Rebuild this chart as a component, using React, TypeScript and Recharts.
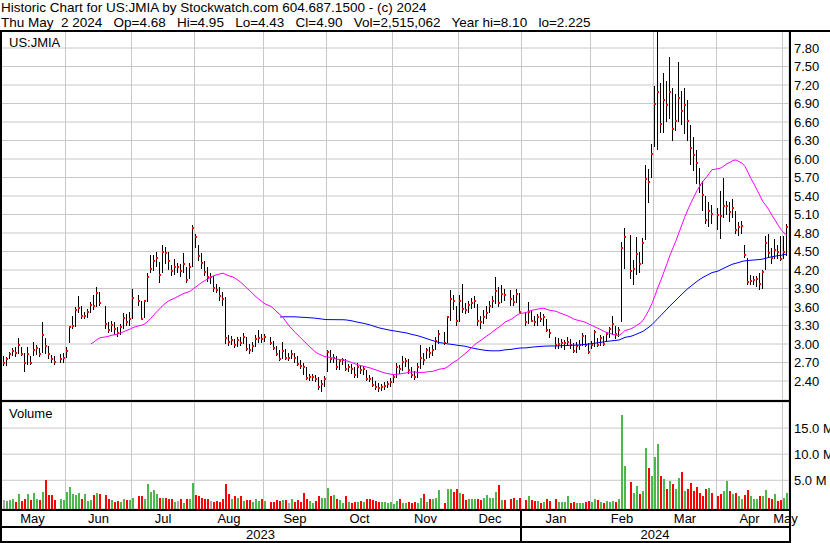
import React from "react";
import { ComposedChart, Bar, Line, XAxis, YAxis, CartesianGrid } from "recharts";

// trading calendar shown on the chart
const FIRST_DAY = "2023-05-02";
const LAST_DAY = "2024-05-02";
const HOLIDAYS = [
  "2023-05-29", "2023-06-19", "2023-07-04", "2023-09-04", "2023-11-23",
  "2023-12-25", "2024-01-01", "2024-01-15", "2024-02-19", "2024-03-29",
];
const MONTH_NAMES = ["Jan", "Feb", "Mar", "Apr", "May", "Jun", "Jul", "Aug", "Sep", "Oct", "Nov", "Dec"];

// daily closes, one row per month (May 2023 .. May 2024)
const CLOSES = [
  2.70, 2.70, 2.76, 2.84, 2.89, 2.86, 2.99, 2.84, 2.70, 2.84, 2.70, 2.90, 2.93, 2.83, 3.15, 2.96, 2.84, 2.75, 2.71, 2.75, 2.78,
  2.89, 3.27, 3.30, 3.55, 3.58, 3.45, 3.46, 3.52, 3.64, 3.62, 3.82, 3.66, 3.32, 3.23, 3.31, 3.24, 3.18, 3.27, 3.42, 3.36, 3.41,
  3.75, 3.70, 3.40, 3.69, 4.09, 4.22, 4.35, 4.40, 4.12, 4.50, 4.47, 4.34, 4.18, 4.25, 4.25, 4.18, 4.30, 4.03, 4.25, 4.88,
  4.74, 4.42, 4.32, 4.16, 4.08, 4.08, 3.91, 3.88, 3.78, 3.73, 3.09, 3.03, 3.06, 2.99, 3.07, 3.02, 3.11, 2.92, 2.90, 2.96, 3.08, 3.09, 3.08,
  3.11, 3.01, 2.94, 2.84, 2.76, 2.89, 2.78, 2.78, 2.83, 2.78, 2.68, 2.65, 2.63, 2.45, 2.46, 2.47, 2.44, 2.31, 2.35, 2.43,
  2.87, 2.75, 2.77, 2.62, 2.72, 2.74, 2.60, 2.63, 2.59, 2.49, 2.63, 2.58, 2.60, 2.44, 2.43, 2.34, 2.31, 2.29, 2.30, 2.32, 2.35, 2.38,
  2.47, 2.62, 2.59, 2.71, 2.72, 2.58, 2.50, 2.47, 2.62, 2.78, 2.74, 2.90, 2.85, 2.90, 3.05, 3.17, 3.02, 3.43, 3.73, 3.69, 3.38,
  3.70, 3.57, 3.55, 3.64, 3.67, 3.70, 3.38, 3.36, 3.44, 3.51, 3.62, 3.70, 3.86, 3.66, 3.81, 3.79, 3.73, 3.68, 3.81, 3.52,
  3.35, 3.52, 3.38, 3.35, 3.44, 3.40, 3.43, 3.23, 3.18, 2.98, 3.00, 3.01, 3.02, 3.04, 2.98, 2.89, 2.96, 2.98, 3.13, 2.99, 2.87,
  2.98, 3.19, 2.99, 3.09, 3.00, 3.17, 3.25, 3.32, 3.16, 3.22, 4.55, 4.74, 4.18, 4.22, 4.46, 4.29, 4.64, 5.68, 5.62, 6.08,
  6.90, 7.09, 6.56, 6.95, 6.88, 7.08, 6.49, 6.62, 6.99, 6.78, 6.88, 6.62, 6.18, 6.07, 5.94, 5.58, 5.41, 5.01, 5.16, 5.11,
  5.09, 5.08, 5.23, 5.24, 5.14, 5.20, 4.85, 4.90, 4.92, 4.44, 4.00, 4.02, 4.03, 4.05, 3.98, 4.16, 4.63, 4.48, 4.39, 4.52, 4.50, 4.38,
  4.50, 4.90,
];

const HIGHS = [
  2.80, 2.80, 2.79, 2.87, 2.94, 2.95, 3.09, 2.95, 2.85, 2.95, 2.80, 3.03, 2.99, 2.93, 3.36, 3.10, 2.97, 2.82, 2.80, 2.84, 2.86,
  2.95, 3.30, 3.45, 3.60, 3.78, 3.62, 3.52, 3.56, 3.68, 3.80, 3.92, 3.85, 3.62, 3.35, 3.38, 3.35, 3.28, 3.32, 3.50, 3.48, 3.52,
  3.89, 3.80, 3.69, 3.72, 4.15, 4.45, 4.45, 4.50, 4.33, 4.61, 4.57, 4.50, 4.28, 4.38, 4.32, 4.30, 4.47, 4.25, 4.31, 4.93,
  4.78, 4.60, 4.48, 4.35, 4.25, 4.15, 4.10, 3.98, 3.92, 3.84, 3.77, 3.15, 3.13, 3.08, 3.12, 3.12, 3.18, 3.12, 3.00, 3.03, 3.14, 3.22, 3.16,
  3.17, 3.12, 3.05, 2.96, 2.90, 3.04, 2.92, 2.85, 2.90, 2.86, 2.80, 2.74, 2.69, 2.62, 2.52, 2.52, 2.50, 2.46, 2.42, 2.48,
  2.91, 2.90, 2.84, 2.80, 2.76, 2.78, 2.76, 2.68, 2.67, 2.62, 2.69, 2.66, 2.64, 2.58, 2.50, 2.47, 2.40, 2.36, 2.35, 2.38, 2.40, 2.45,
  2.52, 2.69, 2.66, 2.80, 2.78, 2.76, 2.62, 2.56, 2.70, 2.98, 2.85, 2.94, 2.95, 2.98, 3.12, 3.22, 3.20, 3.45, 3.88, 3.80, 3.62,
  3.80, 3.97, 3.66, 3.70, 3.75, 3.78, 3.65, 3.45, 3.55, 3.62, 3.70, 3.78, 4.08, 3.92, 3.95, 3.90, 3.87, 3.80, 3.90, 3.82,
  3.52, 3.68, 3.55, 3.45, 3.48, 3.52, 3.48, 3.40, 3.25, 3.12, 3.10, 3.08, 3.06, 3.12, 3.08, 3.02, 3.04, 3.06, 3.18, 3.14, 3.02,
  3.05, 3.22, 3.10, 3.15, 3.13, 3.20, 3.28, 3.45, 3.30, 3.28, 4.65, 4.88, 4.77, 4.36, 4.74, 4.50, 4.72, 5.90, 5.83, 6.24,
  7.18, 8.10, 7.24, 7.39, 7.26, 7.66, 7.15, 7.05, 7.57, 7.10, 7.15, 6.95, 6.55, 6.35, 6.15, 5.85, 5.65, 5.40, 5.30, 5.25,
  5.20, 5.48, 5.69, 5.32, 5.30, 5.35, 5.15, 4.98, 5.00, 4.60, 4.40, 4.12, 4.10, 4.10, 4.15, 4.20, 4.75, 4.78, 4.55, 4.70, 4.60, 4.75,
  4.75, 4.95,
];

const LOWS = [
  2.62, 2.65, 2.64, 2.75, 2.80, 2.79, 2.83, 2.80, 2.55, 2.66, 2.66, 2.80, 2.82, 2.79, 2.85, 2.84, 2.76, 2.70, 2.66, 2.70, 2.70,
  2.78, 3.02, 3.25, 3.28, 3.50, 3.40, 3.40, 3.42, 3.50, 3.55, 3.60, 3.62, 3.25, 3.18, 3.20, 3.15, 3.12, 3.15, 3.25, 3.30, 3.30,
  3.40, 3.62, 3.40, 3.42, 3.68, 4.15, 4.19, 4.25, 3.99, 4.15, 4.30, 4.20, 4.10, 4.12, 4.15, 4.08, 4.15, 3.99, 4.05, 4.25,
  4.55, 4.35, 4.22, 4.10, 4.00, 3.98, 3.85, 3.82, 3.70, 3.62, 3.00, 2.97, 2.98, 2.93, 2.95, 2.96, 3.00, 2.88, 2.83, 2.87, 2.95, 3.02, 3.02,
  3.04, 2.98, 2.90, 2.80, 2.72, 2.75, 2.74, 2.72, 2.76, 2.70, 2.64, 2.60, 2.50, 2.42, 2.40, 2.40, 2.38, 2.25, 2.22, 2.30,
  2.55, 2.70, 2.70, 2.58, 2.58, 2.66, 2.56, 2.55, 2.52, 2.45, 2.45, 2.52, 2.50, 2.40, 2.38, 2.30, 2.25, 2.22, 2.24, 2.25, 2.28, 2.30,
  2.37, 2.45, 2.52, 2.56, 2.62, 2.52, 2.45, 2.42, 2.45, 2.60, 2.66, 2.75, 2.78, 2.80, 2.90, 3.00, 2.98, 3.01, 3.38, 3.55, 3.30,
  3.35, 3.50, 3.48, 3.50, 3.56, 3.58, 3.30, 3.25, 3.32, 3.40, 3.50, 3.58, 3.65, 3.60, 3.66, 3.70, 3.62, 3.62, 3.66, 3.50,
  3.30, 3.32, 3.35, 3.30, 3.30, 3.35, 3.30, 3.20, 3.10, 2.92, 2.92, 2.94, 2.90, 2.96, 2.92, 2.85, 2.86, 2.90, 2.97, 2.95, 2.84,
  2.92, 2.95, 2.95, 2.96, 2.96, 3.04, 3.10, 3.15, 3.08, 3.12, 3.35, 4.21, 4.06, 3.95, 4.12, 4.15, 4.30, 4.69, 5.29, 5.70,
  6.20, 6.15, 6.42, 6.42, 6.60, 6.65, 6.29, 6.45, 6.60, 6.55, 6.40, 6.30, 5.90, 5.80, 5.60, 5.45, 5.15, 4.95, 4.90, 4.95,
  4.85, 4.70, 5.05, 5.10, 4.98, 5.05, 4.78, 4.75, 4.78, 4.40, 3.95, 3.95, 3.95, 3.92, 3.88, 3.90, 4.20, 4.40, 4.30, 4.38, 4.38, 4.35,
  4.38, 4.43,
];

// daily volume, millions of shares
const VOLUMES = [
  1.0, 1.2, 1.0, 1.2, 1.5, 0.8, 2.3, 1.0, 1.5, 2.3, 1.2, 2.5, 1.4, 1.2, 2.7, 5.0, 2.1, 2.1, 1.2, 1.5, 1.2,
  2.7, 3.7, 2.3, 2.1, 2.5, 1.5, 2.3, 1.0, 1.2, 2.1, 2.5, 2.3, 2.1, 1.5, 1.2, 0.8, 1.0, 0.8, 1.4, 1.2, 1.2,
  1.7, 1.9, 1.9, 1.4, 4.3, 2.7, 3.1, 2.3, 1.7, 1.7, 1.7, 1.5, 1.4, 0.8, 1.0, 1.4, 0.6, 1.4, 1.4, 4.5,
  2.1, 1.9, 1.7, 1.4, 1.5, 1.0, 0.8, 1.0, 0.8, 1.5, 4.3, 2.3, 1.4, 1.9, 1.7, 1.9, 1.0, 1.2, 1.2, 0.8, 1.4, 1.0, 1.4,
  1.0, 0.8, 0.8, 1.2, 1.0, 1.2, 1.2, 0.6, 1.4, 0.8, 1.2, 0.8, 2.5, 1.4, 1.0, 0.6, 1.0, 1.9, 1.7, 1.7,
  3.5, 1.9, 2.1, 1.5, 1.2, 0.6, 1.9, 0.8, 0.6, 0.8, 0.8, 1.0, 0.8, 1.5, 1.4, 1.2, 1.0, 0.8, 0.8, 0.8, 0.6, 0.8,
  0.4, 1.0, 1.5, 0.6, 0.6, 0.8, 0.6, 0.8, 0.6, 1.7, 2.3, 0.8, 1.5, 1.4, 1.7, 3.1, 0.6, 3.3, 3.3, 2.7, 3.3,
  2.5, 2.3, 1.2, 1.5, 1.5, 1.4, 1.5, 1.2, 1.7, 2.1, 1.7, 1.7, 2.7, 4.1, 1.2, 1.2, 1.5, 1.7, 1.2, 1.7,
  1.2, 1.9, 1.2, 1.0, 1.0, 0.6, 0.8, 1.4, 1.0, 1.5, 0.8, 0.8, 0.8, 1.9, 0.6, 0.8, 0.6, 0.6, 0.6, 0.8, 1.0,
  0.8, 1.4, 1.2, 0.8, 0.6, 1.0, 0.8, 1.0, 0.8, 1.4, 17.6, 7.7, 4.6, 2.5, 3.9, 2.3, 2.9, 11.2, 7.4, 5.8,
  9.5, 12.0, 5.8, 5.2, 3.3, 4.8, 4.3, 3.3, 5.4, 6.6, 2.9, 3.3, 4.5, 2.9, 3.7, 2.5, 1.9, 3.3, 3.5, 2.5,
  1.9, 2.3, 2.9, 4.8, 2.9, 2.3, 2.5, 1.9, 1.4, 2.1, 3.1, 1.9, 1.5, 1.4, 1.9, 1.9, 3.1, 1.7, 1.4, 2.3, 1.0, 1.2,
  1.7, 2.5,
];

const PRICE_TICKS = [2.4, 2.7, 3.0, 3.3, 3.6, 3.9, 4.2, 4.5, 4.8, 5.1, 5.4, 5.7, 6.0, 6.3, 6.6, 6.9, 7.2, 7.5, 7.8];
const VOLUME_TICKS = [5, 10, 15];
const MA_FAST = 30;
const MA_SLOW = 90;

const HEADER_1 = "Historic Chart for US:JMIA by Stockwatch.com 604.687.1500 - (c) 2024";
const HEADER_2 = "Thu May  2 2024   Op=4.68   Hi=4.95   Lo=4.43   Cl=4.90   Vol=2,515,062   Year hi=8.10   lo=2.225";

const FONT = '"Liberation Sans", Arial, sans-serif';
const GRID = "#c8c8c8";
const VOL_COLORS: Record<string, string> = { up: "#4cb84c", down: "#ff0000", flat: "#a8a8a8" };

const PRICE_DOMAIN: [number, number] = [2.0919, 8.0757];
const VOL_DOMAIN: [number, number] = [-0.5, 20.0];

// ---- build the table ----
const DAY = 86400000;
const weekdays: string[] = [];
for (let t = Date.parse(FIRST_DAY); t <= Date.parse(LAST_DAY); t += DAY) {
  const wd = new Date(t).getUTCDay();
  if (wd > 0 && wd < 6) weekdays.push(new Date(t).toISOString().slice(0, 10));
}
const X_DOMAIN: [number, number] = [-1 / 3, weekdays.length - 1 / 3];

const avg = (k: number, n: number) =>
  k + 1 < n ? null : CLOSES.slice(k + 1 - n, k + 1).reduce((a, b) => a + b, 0) / n;

const rows: any[] = [];
let k = 0;
weekdays.forEach((date, i) => {
  if (HOLIDAYS.includes(date)) return;
  const c = CLOSES[k];
  const prev = k > 0 ? CLOSES[k - 1] : c;
  rows.push({
    i,
    date,
    c,
    hl: [LOWS[k], HIGHS[k]],
    vol: [VOL_DOMAIN[0], VOLUMES[k]],
    dir: c > prev ? "up" : c < prev ? "down" : "flat",
    maFast: avg(k, MA_FAST),
    maSlow: avg(k, MA_SLOW),
  });
  k++;
});

const monthStarts: { slot: number; label: string; year: number }[] = [];
weekdays.forEach((d, i) => {
  if (i === 0 || d.slice(0, 7) !== weekdays[i - 1].slice(0, 7)) {
    monthStarts.push({ slot: i, label: MONTH_NAMES[Number(d.slice(5, 7)) - 1], year: Number(d.slice(0, 4)) });
  }
});
const monthMids = monthStarts.map((m, j) => {
  const end = j + 1 < monthStarts.length ? monthStarts[j + 1].slot - 1 : weekdays.length - 1;
  return { v: (m.slot + end) / 2, label: m.label };
});
const gridTicks = monthStarts.slice(1).map((m) => m.slot - 0.5);
const newYear = monthStarts.find((m) => m.year === 2024)!.slot;
const yearMarks = [
  { v: (newYear - 1) / 2, label: "2023" },
  { v: newYear - 2 / 3, label: "" },
  { v: (newYear + weekdays.length - 1) / 2, label: "2024" },
];

// ---- shapes ----
const OhlcBar = (p: any) => {
  const { x, y, height, payload } = p;
  const top = Math.min(y, y + height);
  const h = Math.max(Math.abs(height), 1);
  const [lo, hi] = payload.hl;
  const cy = hi === lo ? top : top + ((hi - payload.c) / (hi - lo)) * h;
  const lx = Math.round(x);
  return (
    <g shapeRendering="crispEdges">
      <rect x={lx} y={top} width={1} height={h} fill="#000" />
      <rect x={lx} y={Math.round(cy - 1)} width={2} height={2} fill="#ff0000" />
    </g>
  );
};

const VolumeBar = (p: any) => {
  const { x, y, width, height, payload } = p;
  const top = Math.min(y, y + height);
  return (
    <rect x={Math.round(x)} y={top} width={width} height={Math.abs(height)} fill={VOL_COLORS[payload.dir]} shapeRendering="crispEdges" />
  );
};

const RightTick = ({ x, y, payload, fmt }: any) => (
  <text x={x} y={y} dy="0.36em" textAnchor="start" fontSize={13} fontFamily={FONT} fill="#000">
    {fmt(payload.value)}
  </text>
);

const MonthTick = ({ x, y, payload }: any) => {
  const m = monthMids.find((t) => Math.abs(t.v - payload.value) < 0.01);
  return (
    <text x={x} y={y + 9} textAnchor="middle" dominantBaseline="central" fontSize={13} fontFamily={FONT} fill="#000">
      {m ? m.label : ""}
    </text>
  );
};

const YearTick = ({ x, y, payload }: any) => {
  const m = yearMarks.find((t) => Math.abs(t.v - payload.value) < 0.01);
  if (!m) return null;
  if (!m.label) return <rect x={Math.round(x) - 1} y={y - 17} width={2} height={32} fill="#000" />;
  return (
    <text x={x} y={y + 8} textAnchor="middle" dominantBaseline="central" fontSize={13} fontFamily={FONT} fill="#000">
      {m.label}
    </text>
  );
};

const line = (left: number, top: number, width: number, height: number) => (
  <div style={{ position: "absolute", left, top, width, height, background: "#000" }} />
);

export default function App() {
  return (
    <div style={{ position: "absolute", left: 0, top: 0, width: 830, height: 543, background: "#fff", overflow: "hidden", fontFamily: FONT }}>
      <div style={{ position: "absolute", left: 1, top: 0, fontSize: 13.5, lineHeight: "15px", whiteSpace: "pre", color: "#000" }}>
        {HEADER_1}
        {"\n"}
        {HEADER_2}
      </div>

      <div style={{ position: "absolute", left: 0, top: 31 }}>
        <ComposedChart width={830} height={369} data={rows} margin={{ top: 0, right: 0, bottom: 0, left: 0 }}>
          <CartesianGrid stroke={GRID} />
          <XAxis type="number" dataKey="i" domain={X_DOMAIN} allowDataOverflow ticks={gridTicks} hide />
          <YAxis
            orientation="right"
            width={41}
            domain={PRICE_DOMAIN}
            allowDataOverflow
            ticks={PRICE_TICKS}
            interval={0}
            tick={<RightTick fmt={(v: number) => v.toFixed(2)} />}
            axisLine={false}
            tickLine={false}
            tickSize={3}
            tickMargin={2}
          />
          <Bar dataKey="hl" barSize={2} shape={OhlcBar} isAnimationActive={false} />
          <Line dataKey="maSlow" type="linear" stroke="#0000ff" strokeWidth={1} dot={false} activeDot={false} isAnimationActive={false} />
          <Line dataKey="maFast" type="linear" stroke="#ff00ff" strokeWidth={1} dot={false} activeDot={false} isAnimationActive={false} />
        </ComposedChart>
      </div>

      <div style={{ position: "absolute", left: 0, top: 400 }}>
        <ComposedChart width={830} height={143} data={rows} margin={{ top: 2, right: 0, bottom: 2, left: 0 }}>
          <XAxis
            xAxisId="m"
            type="number"
            dataKey="i"
            domain={X_DOMAIN}
            allowDataOverflow
            ticks={monthMids.map((m) => m.v)}
            interval={0}
            height={17}
            axisLine={false}
            tickLine={false}
            tickSize={0}
            tickMargin={0}
            tick={<MonthTick />}
          />
          <XAxis
            xAxisId="y"
            type="number"
            dataKey="i"
            domain={X_DOMAIN}
            allowDataOverflow
            ticks={yearMarks.map((m) => m.v)}
            interval={0}
            height={15}
            axisLine={false}
            tickLine={false}
            tickSize={0}
            tickMargin={0}
            tick={<YearTick />}
          />
          <XAxis xAxisId="g" type="number" dataKey="i" domain={X_DOMAIN} allowDataOverflow ticks={gridTicks} height={0} hide />
          <YAxis
            orientation="right"
            width={41}
            domain={VOL_DOMAIN}
            allowDataOverflow
            ticks={VOLUME_TICKS}
            interval={0}
            tick={<RightTick fmt={(v: number) => `${v.toFixed(1)} M`} />}
            axisLine={false}
            tickLine={false}
            tickSize={3}
            tickMargin={2}
          />
          <CartesianGrid stroke={GRID} xAxisId="g" />
          <Bar xAxisId="m" dataKey="vol" barSize={2} shape={VolumeBar} isAnimationActive={false} />
        </ComposedChart>
      </div>

      <div style={{ position: "absolute", left: 9, top: 35, fontSize: 13, lineHeight: "15px", color: "#000" }}>US:JMIA</div>
      <div style={{ position: "absolute", left: 9, top: 406, fontSize: 13, lineHeight: "15px", color: "#000" }}>Volume</div>

      {line(0, 30, 830, 2)}
      {line(0, 30, 2, 513)}
      {line(789, 30, 2, 513)}
      {line(0, 400, 791, 2)}
      {line(0, 509, 791, 2)}
      {line(0, 526, 791, 2)}
      {line(0, 541, 791, 2)}
    </div>
  );
}
